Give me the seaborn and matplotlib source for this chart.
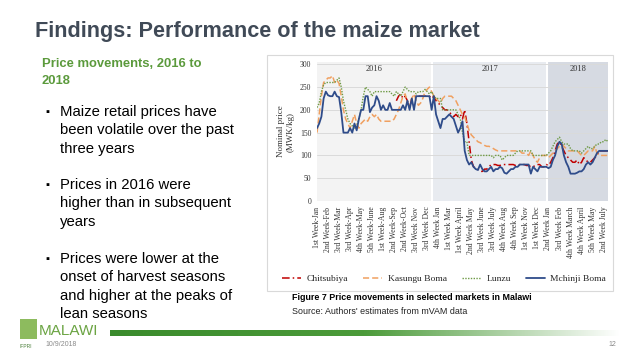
import numpy as np
import pandas as pd
import matplotlib
matplotlib.use("Agg")
import matplotlib.pyplot as plt
import matplotlib.patches as mpatches
from matplotlib.colors import LinearSegmentedColormap
import seaborn as sns

# weekly nominal maize prices (MWK/kg), Jan 2016 - Jul 2018
mchinji = [160, 170, 185, 225, 240, 232, 230, 230, 240, 230, 228, 195, 150, 150, 150, 160, 150, 170, 155, 180,
           200, 200, 230, 230, 195, 205, 210, 230, 220, 200, 210, 200, 200, 215, 200, 200, 200, 200, 200, 210,
           200, 220, 200, 225, 200, 230, 230, 230, 230, 230, 230, 230, 200, 230, 190, 175, 160, 180, 180, 185,
           190, 185, 180, 165, 150, 160, 175, 110, 90, 80, 85, 75, 70, 68, 80, 70, 65, 65, 70, 75,
           65, 70, 70, 75, 72, 62, 60, 65, 70, 70, 75, 75, 80, 80, 80, 80, 80, 60, 75, 70,
           65, 75, 75, 75, 75, 72, 75, 90, 100, 120, 130, 125, 100, 85, 75, 60, 60, 60, 62, 65,
           65, 70, 80, 85, 80, 85, 95, 105, 110, 110, 110, 110, 110]
kasungu = [150, 190, 230, 260, 265, 270, 270, 275, 260, 265, 258, 230, 200, 180, 170, 160, 175, 190, 170, 160,
           170, 175, 180, 175, 185, 190, 185, 190, 180, 175, 175, 175, 175, 175, 175, 180, 190, 200, 215, 230,
           235, 215, 210, 225, 235, 220, 210, 215, 225, 240, 245, 250, 240, 230, 225, 220, 215, 225, 230, 230,
           230, 230, 225, 220, 210, 200, 190, 185, 170, 155, 145, 140, 135, 130, 128, 125, 122, 120, 120, 118,
           115, 112, 110, 110, 110, 110, 110, 110, 110, 110, 110, 110, 110, 105, 105, 105, 100, 110, 100, 90,
           85, 95, 100, 100, 100, 95, 100, 105, 110, 115, 120, 125, 120, 115, 110, 110, 110, 110, 110, 105,
           100, 100, 105, 110, 110, 110, 120, 105, 100, 100, 100, 100, 100]
lunzu = [205, 215, 240, 255, 260, 260, 260, 260, 260, 265, 270, 250, 220, 200, 180, 170, 165, 160, 165, 180,
         200, 230, 250, 245, 240, 230, 240, 240, 240, 240, 240, 240, 240, 240, 235, 230, 240, 235, 230, 240,
         250, 245, 240, 240, 240, 235, 240, 240, 240, 245, 240, 235, 240, 230, 225, 225, 225, 200, 200, 200,
         200, 200, 200, 200, 190, 180, 150, 130, 130, 100, 100, 100, 100, 100, 100, 100, 100, 100, 100, 100,
         95, 100, 100, 100, 90, 95, 100, 100, 100, 100, 105, 110, 110, 110, 110, 110, 110, 110, 100, 100,
         100, 100, 100, 100, 100, 105, 110, 120, 130, 135, 140, 130, 125, 125, 125, 115, 110, 110, 110, 110,
         105, 110, 115, 120, 115, 115, 120, 125, 125, 130, 130, 135, 130]
chitsubiya = [np.nan] * 36 + [
    220, 230, 235, 225, 230, 220, 205, 225, 230, 230, 230, 230, 230, 230, 230, 230, 225, 230, 220, 215,
    210, 205, 200, 200, 195, 190, 185, 190, 185, 190, 180, 200, 170, 130, 90, 75, 72, 70, 65, 65,
    70, 70, 75, 80, 80, 80, 78, 78, 80, 80, 80, 80, 80, 80, 78, 78, 80, 80, 80, 78,
    78, 75, 75, 78, 80, 80, 75, 75, 80, 78, 85, 95, 110, 125, 130, 120, 110, 100, 95, 90,
    85, 85, 90, 80, 85, 95, 90, 85, 85, 90, 95, 100, 110, 110, 110, 110, 110]

tick_labels = ["1st Week-Jan", "2nd Week-Feb", "3rd Week-Mar", "3rd Week-Apr", "4th Week-May",
               "5th Week-June", "1st Week-Aug", "2nd Week-Sep", "2nd Week-Oct", "3rd Week Nov",
               "3rd Week Dec", "4th Week Jan", "1st Week Mar", "1st Week April", "2nd Week May",
               "3rd Week June", "3rd Week July", "4th Week Aug", "4th Week Sep", "1st Week Nov",
               "1st Week Dec", "2nd Week Jan", "3rd Week Feb", "4th Week March", "4th Week April",
               "5th Week May", "2nd Week July"]
years = ["2016", "2017", "2018"]
year_start = [0, 52, 104.5]

weeks = np.arange(len(mchinji))
df = pd.DataFrame({"week": weeks, "Chitsubiya": chitsubiya, "Kasungu Boma": kasungu,
                   "Lunzu": lunzu, "Mchinji Boma": mchinji})

sns.set_style("white")
plt.rcParams["font.family"] = ["Liberation Sans", "DejaVu Sans"]

W, H = 638, 359
fig = plt.figure(figsize=(6.38, 3.59), dpi=100)
fig.patch.set_facecolor("white")

def fx(x):
    return x / W

def fy(y):
    return 1 - y / H

# slide text
fig.text(fx(35), fy(31), "Findings: Performance of the maize market", fontsize=15.6, fontweight="bold",
         color="#404A57", va="center", ha="left")
fig.text(fx(42), fy(64), "Price movements, 2016 to", fontsize=9.4, fontweight="bold", color="#5B9A3C", va="center")
fig.text(fx(42), fy(81), "2018", fontsize=9.4, fontweight="bold", color="#5B9A3C", va="center")

bullets = [
    (112, ["Maize retail prices have", "been volatile over the past", "three years"]),
    (185, ["Prices in 2016 were", "higher than in subsequent", "years"]),
    (259, ["Prices were lower at the", "onset of harvest seasons", "and higher at the peaks of", "lean seasons"]),
]
for y0, lines in bullets:
    fig.text(fx(45), fy(y0), "\u25aa", fontsize=8, color="black", va="center")
    for i, line in enumerate(lines):
        fig.text(fx(60), fy(y0 + i * 18.3), line, fontsize=10.7, color="black", va="center")

# chart box (behind the axes)
fig.add_artist(mpatches.Rectangle((fx(267), fy(291)), (613 - 267) / W, (291 - 55) / H,
                                  transform=fig.transFigure, facecolor="white", edgecolor="#D9D9D9",
                                  lw=0.8, zorder=-5))

ax = fig.add_axes([fx(317), fy(201), (608 - 317) / W, (201 - 62) / H])
ax.set_facecolor("white")
ax.set_xlim(0, weeks[-1])
ax.set_ylim(0, 305)

shade = ["#F3F3F3", "#E8EBF0", "#D6DAE2"]
bounds = year_start + [weeks[-1]]
for i in range(3):
    ax.axvspan(bounds[i], bounds[i + 1], color=shade[i], lw=0, zorder=0)
    ax.text((bounds[i] + bounds[i + 1]) / 2, 290, years[i], ha="center", va="center",
            fontsize=6, family="Liberation Serif", color="#333333")
for b in year_start[1:]:
    ax.axvline(b, color="white", lw=1.5, zorder=1)
for v in range(0, 301, 50):
    ax.axhline(v, color="#DADADA", lw=0.7, zorder=1)

styles = [("Chitsubiya", "#C00000", (0, (5, 2, 1, 2)), 1.1),
          ("Kasungu Boma", "#F0A060", (0, (4, 2)), 1.1),
          ("Lunzu", "#6E9A45", (0, (1, 1)), 1.0),
          ("Mchinji Boma", "#2F4C8A", "-", 1.3)]
for name, col, ls, lw in styles:
    sns.lineplot(data=df, x="week", y=name, ax=ax, color=col, linestyle=ls, linewidth=lw,
                 label=name, zorder=3)

ax.set_xticks(weeks[::5])
ax.set_xticklabels(tick_labels, rotation=90, fontsize=5.6, family="Liberation Serif", color="#333333")
ax.set_yticks(range(0, 301, 50))
ax.set_yticklabels([str(v) for v in range(0, 301, 50)], fontsize=5.5, family="Liberation Serif",
                   color="#333333")
ax.tick_params(length=0, pad=4)
ax.set_xlabel("")
ax.set_ylabel("Nominal price\n(MWK/kg)", fontsize=6.5, family="Liberation Serif", color="#333333",
              labelpad=4)
for s in ax.spines.values():
    s.set_visible(False)

ax.legend(loc="center", bbox_to_anchor=(fx(444), fy(279)), bbox_transform=fig.transFigure, ncol=4,
          frameon=False, prop={"family": "Liberation Serif", "size": 6.8}, handlelength=2.0,
          columnspacing=1.6, handletextpad=0.6)

# caption
fig.text(fx(292), fy(298), "Figure 7 Price movements in selected markets in Malawi", fontsize=6.4,
         fontweight="bold", color="black", va="center")
fig.text(fx(292), fy(312), "Source: Authors' estimates from mVAM data", fontsize=6.4,
         color="#222222", va="center")

# footer
bar = fig.add_axes([fx(110), fy(336), (620 - 110) / W, 6 / H])
cmap = LinearSegmentedColormap.from_list("g", [(0, "#3A8B2C"), (0.5, "#4C9B3A"), (1, "#FFFFFF")])
bar.imshow(np.linspace(0, 1, 256)[None, :], aspect="auto", cmap=cmap)
bar.axis("off")

fig.add_artist(mpatches.Rectangle((fx(20), fy(339)), 17 / W, 20 / H, transform=fig.transFigure,
                                  facecolor="#8DBB5E", edgecolor="none"))
fig.text(fx(39), fy(331), "MALAWI", fontsize=11, color="#6BA443", va="center")
fig.text(fx(20), fy(346), "IFPRI", fontsize=3.5, color="#4A7F3A", va="center")
fig.text(fx(45), fy(345), "10/9/2018", fontsize=5, color="#8A8A8A", va="center")
fig.text(fx(616), fy(345), "12", fontsize=5, color="#8A8A8A", va="center", ha="right")

fig.savefig("out.png", dpi=100)
